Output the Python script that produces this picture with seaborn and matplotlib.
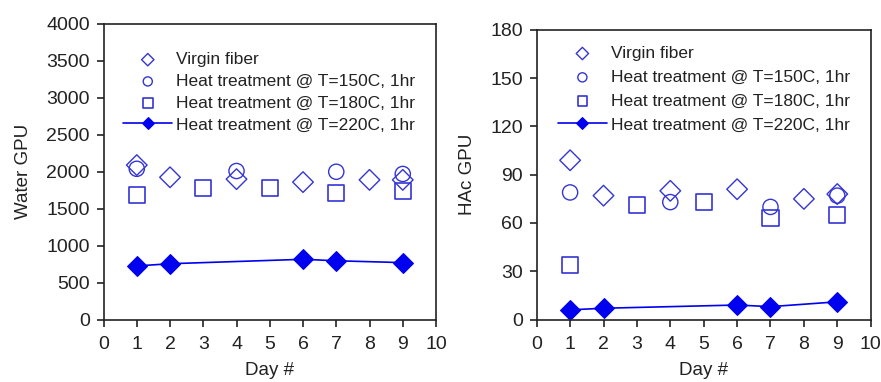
import matplotlib
matplotlib.use('Agg')
import matplotlib.pyplot as plt
import seaborn as sns
import pandas as pd

# data
days_virgin = [1, 2, 4, 6, 8, 9]
days_150 = [1, 4, 7, 9]
days_180 = [1, 3, 5, 7, 9]
days_220 = [1, 2, 6, 7, 9]

water_virgin = [2090, 1925, 1900, 1860, 1890, 1890]
water_150 = [2040, 2010, 2000, 1970]
water_180 = [1690, 1780, 1780, 1715, 1745]
water_220 = [725, 755, 815, 795, 770]

hac_virgin = [99, 77, 80, 81, 75, 78]
hac_150 = [79, 73, 70, 77]
hac_180 = [34, 71, 73, 63, 65]
hac_220 = [6, 7, 9, 8, 11]

labels = ['Virgin fiber', 'Heat treatment @ T=150C, 1hr',
          'Heat treatment @ T=180C, 1hr', 'Heat treatment @ T=220C, 1hr']

sns.set_style('ticks')
plt.rcParams['font.family'] = ['Liberation Sans', 'DejaVu Sans']

open_col = '#3535d5'
fill_col = '#0000f0'

fig = plt.figure(figsize=(8.81, 3.82), dpi=100)
ax1 = fig.add_axes([0.1175, 0.1636, 0.3774, 0.7736])
ax2 = fig.add_axes([0.6092, 0.1636, 0.3791, 0.7579])


def draw(ax, virgin, t150, t180, t220, ymax, ystep, ylabel, leg_anchor, spacing):
    d1 = pd.DataFrame({'day': days_virgin, 'val': virgin})
    d2 = pd.DataFrame({'day': days_150, 'val': t150})
    d3 = pd.DataFrame({'day': days_180, 'val': t180})
    d4 = pd.DataFrame({'day': days_220, 'val': t220})
    sns.scatterplot(data=d1, x='day', y='val', ax=ax, marker='D', s=110,
                    facecolor='none', edgecolor=open_col, linewidth=1.0, label=labels[0])
    sns.scatterplot(data=d2, x='day', y='val', ax=ax, marker='o', s=120,
                    facecolor='none', edgecolor=open_col, linewidth=1.0, label=labels[1])
    sns.scatterplot(data=d3, x='day', y='val', ax=ax, marker='s', s=135,
                    facecolor='none', edgecolor=open_col, linewidth=1.2, label=labels[2])
    sns.lineplot(data=d4, x='day', y='val', ax=ax, marker='D', markersize=10,
                 color=fill_col, markeredgecolor=fill_col, linewidth=1.2, label=labels[3])
    ax.set_xlim(0, 10)
    ax.set_ylim(0, ymax)
    ax.set_xticks(range(0, 11))
    ax.set_yticks(range(0, ymax + 1, ystep))
    ax.set_xlabel('Day #', fontsize=13.5, color='#222222', labelpad=6)
    ax.set_ylabel(ylabel, fontsize=13.5, color='#222222', labelpad=10)
    ax.tick_params(axis='both', labelsize=14, colors='#222222', length=5, width=1.2, direction='out')
    ax.tick_params(axis='x', pad=7)
    ax.tick_params(axis='y', pad=5)
    for sp in ax.spines.values():
        sp.set_linewidth(1.2)
        sp.set_color('#222222')
    leg = ax.legend(loc='upper left', bbox_to_anchor=leg_anchor, frameon=False, fontsize=12.5,
                    handlelength=2.8, handletextpad=0.25, borderpad=0, borderaxespad=0,
                    labelspacing=spacing, markerscale=0.6)
    for t in leg.get_texts():
        t.set_color('#222222')


draw(ax1, water_virgin, water_150, water_180, water_220, 4000, 500, 'Water GPU', (0.06, 0.905), 0.38)
draw(ax2, hac_virgin, hac_150, hac_180, hac_220, 180, 30, 'HAc GPU', (0.064, 0.945), 0.5)

fig.savefig('out.png', dpi=100)
